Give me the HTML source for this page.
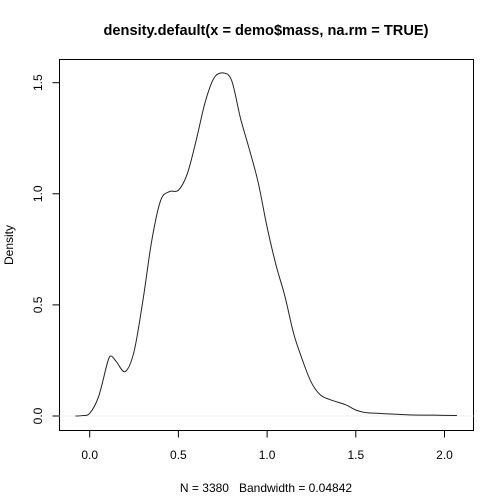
<!DOCTYPE html>
<html><head><meta charset="utf-8"><style>
html,body{margin:0;padding:0;background:#fff;}
svg{display:block;font-family:"Liberation Sans",Arial,sans-serif;}
</style></head><body>
<svg id="chart" width="504" height="504" viewBox="0 0 504 504">
<rect x="0" y="0" width="504" height="504" fill="#fff"/>
<text x="266" y="35" text-anchor="middle" font-size="14.6" font-weight="bold">density.default(x = demo$mass, na.rm = TRUE)</text>
<text x="266" y="492" text-anchor="middle" font-size="12" style="white-space:pre" xml:space="preserve">N = 3380   Bandwidth = 0.04842</text>
<text transform="translate(13,245) rotate(-90)" text-anchor="middle" font-size="12">Density</text>
<rect x="59.5" y="59.5" width="414" height="371" fill="none" stroke="#000" stroke-width="1"/>
<g id="xaxis"></g>
<g id="yaxis"></g>
<g id="plot"></g>
</svg>
<script>
const xs = [-0.08,-0.04,0,0.05,0.1,0.12,0.15,0.2,0.25,0.3,0.35,0.4,0.45,0.5,0.55,0.6,0.65,0.7,0.75,0.8,0.85,0.9,0.95,1.0,1.05,1.1,1.15,1.2,1.25,1.3,1.35,1.4,1.45,1.5,1.55,1.6,1.7,1.8,1.9,2.0,2.07];
const ys = [0.0,0.002,0.012,0.087,0.24,0.27,0.245,0.2,0.29,0.52,0.79,0.97,1.01,1.016,1.09,1.24,1.41,1.52,1.544,1.51,1.34,1.2,1.05,0.85,0.68,0.54,0.37,0.25,0.15,0.095,0.075,0.062,0.048,0.027,0.016,0.013,0.009,0.005,0.004,0.003,0.002];
const xTicks = [0,0.5,1,1.5,2];
const xTickLabels = ["0.0","0.5","1.0","1.5","2.0"];
const yTicks = [0,0.5,1,1.5];
const yTickLabels = ["0.0","0.5","1.0","1.5"];

const NS="http://www.w3.org/2000/svg";
function X(v){return 89.7+v*177.4;}
function Y(v){return 416-v*222.2;}
function mk(tag,attrs,parent){const e=document.createElementNS(NS,tag);for(const k in attrs)e.setAttribute(k,attrs[k]);parent.appendChild(e);return e;}
const plot=document.getElementById('plot'),xa=document.getElementById('xaxis'),ya=document.getElementById('yaxis');

const zl=mk('line',{x1:59.5,x2:473.5,y1:Y(0),y2:Y(0),stroke:'#ececec','stroke-width':1},plot);



const pts=xs.map((x,i)=>[X(x),Y(ys[i])]);
let d='M'+pts[0][0].toFixed(2)+','+pts[0][1].toFixed(2);
for(let i=0;i<pts.length-1;i++){
  const p0=pts[Math.max(0,i-1)],p1=pts[i],p2=pts[i+1],p3=pts[Math.min(pts.length-1,i+2)];
  const c1=[p1[0]+(p2[0]-p0[0])/6,p1[1]+(p2[1]-p0[1])/6];
  const c2=[p2[0]-(p3[0]-p1[0])/6,p2[1]-(p3[1]-p1[1])/6];
  d+='C'+c1[0].toFixed(2)+','+c1[1].toFixed(2)+' '+c2[0].toFixed(2)+','+c2[1].toFixed(2)+' '+p2[0].toFixed(2)+','+p2[1].toFixed(2);
}
const p=mk('path',{d:d,fill:'none',stroke:'#222','stroke-width':1,'stroke-linejoin':'round'},plot);



const xl=mk('line',{x1:X(xTicks[0]),x2:X(xTicks[xTicks.length-1]),y1:430.5,y2:430.5,stroke:'#000'},xa);


xTicks.forEach((t,i)=>{
  const tk=mk('line',{x1:X(t),x2:X(t),y1:430.5,y2:437.5,stroke:'#000'},xa);
  
  
  const tx=mk('text',{x:X(t),y:459,'text-anchor':'middle','font-size':12},xa);
  tx.textContent=xTickLabels[i];
  
  
});
const yl=mk('line',{x1:59.5,x2:59.5,y1:Y(yTicks[0]),y2:Y(yTicks[yTicks.length-1]),stroke:'#000'},ya);


yTicks.forEach((t,i)=>{
  const tk=mk('line',{x1:52.5,x2:59.5,y1:Y(t),y2:Y(t),stroke:'#000'},ya);
  
  
  const tx=mk('text',{x:0,y:0,'text-anchor':'middle','font-size':12,transform:'translate(42,'+Y(t)+') rotate(-90)'},ya);
  tx.textContent=yTickLabels[i];
  
  
});
</script>
</body></html>
